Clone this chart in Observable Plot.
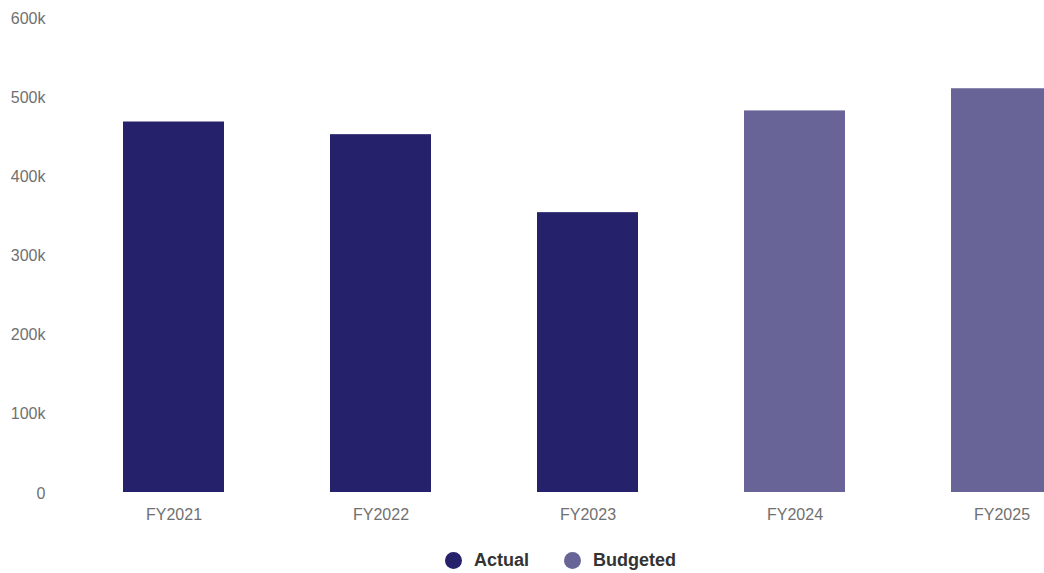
<!DOCTYPE html>
<html>
<head>
<meta charset="utf-8">
<script src="https://cdn.jsdelivr.net/npm/d3@7"></script>
<script src="https://cdn.jsdelivr.net/npm/@observablehq/plot@0.6"></script>
<style>
  html, body { margin: 0; padding: 0; background: #fff; }
  body { width: 1044px; height: 573px; overflow: hidden; font-family: "Liberation Sans", Arial, sans-serif; }
  #chart svg { display: block; }
  .legend { position: absolute; left: 445px; top: 548px; display: flex; align-items: center; height: 24px; font-weight: bold; font-size: 18px; color: #333; }
  .legend .item { display: flex; align-items: center; margin-right: 35px; }
  .legend .dot { width: 17px; height: 17px; border-radius: 50%; margin-right: 12px; }
</style>
</head>
<body>
<div id="chart"></div>
<div class="legend" id="legend"></div>
<script>
const years = ["FY2021", "FY2022", "FY2023", "FY2024", "FY2025"];
const amounts = [468000, 452000, 353500, 482000, 510000];
const kinds = ["Actual", "Actual", "Actual", "Budgeted", "Budgeted"];
const seriesNames = ["Actual", "Budgeted"];
const seriesColors = ["#25216b", "#686497"];
const yTicks = [0, 100000, 200000, 300000, 400000, 500000, 600000];

const data = years.map((y, i) => ({year: y, value: amounts[i], kind: kinds[i]}));

const chart = Plot.plot({
  width: 1044,
  height: 533,
  marginTop: 17,
  marginBottom: 41,
  marginLeft: 52,
  marginRight: 0,
  style: {fontFamily: "'Liberation Sans', Arial, sans-serif", fontSize: "16px", color: "#707070", background: "#fff"},
  x: {domain: years, range: [122, 1053], paddingInner: 0.513, paddingOuter: 0, label: null},
  y: {domain: [0, 600000], label: null},
  color: {domain: seriesNames, range: seriesColors},
  marks: [
    Plot.barY(data, {x: "year", y: "value", fill: "kind"}),
    Plot.axisY({ticks: yTicks, tickFormat: d3.format("~s"), tickSize: 0, tickPadding: 7, dy: 1, label: null, fill: "#707070"}),
    Plot.axisX({tickSize: 0, tickPadding: 16, label: null, fill: "#707070"})
  ]
});
document.getElementById("chart").appendChild(chart);

const legend = document.getElementById("legend");
seriesNames.forEach((n, i) => {
  const it = document.createElement("div");
  it.className = "item";
  it.innerHTML = `<span class="dot" style="background:${seriesColors[i]}"></span><span>${n}</span>`;
  legend.appendChild(it);
});
</script>
</body>
</html>
